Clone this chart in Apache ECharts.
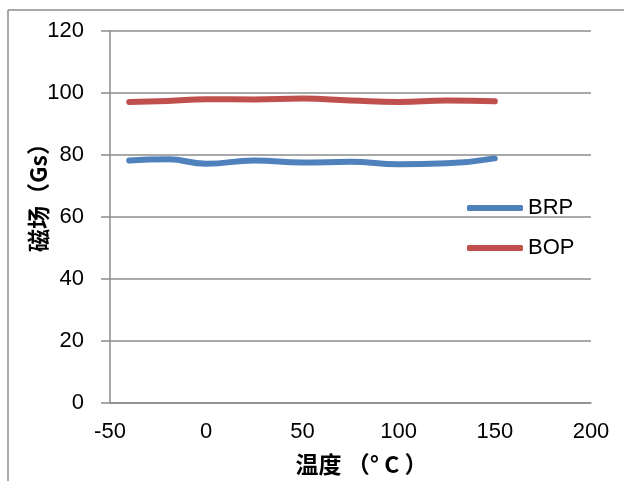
<!DOCTYPE html>
<html>
<head>
<meta charset="utf-8">
<script src="https://cdn.jsdelivr.net/npm/echarts@6/dist/echarts.min.js"></script>
<style>html,body{margin:0;padding:0;background:#fff}#c{width:624px;height:481px}</style>
</head>
<body>
<div id="c"></div>
<script>
var temps = [-40, -20, 0, 25, 50, 75, 100, 125, 150];
var brp = [78.2, 78.6, 77.2, 78.2, 77.6, 77.8, 77.0, 77.3, 78.9];
var bop = [97.1, 97.4, 98.0, 97.9, 98.2, 97.6, 97.1, 97.6, 97.3];
var seriesNames = ['BRP', 'BOP'];
var xName = '温度 （° C ）';
var yName = '磁场（Gs）';

function pairs(xs, ys) { return xs.map(function (x, i) { return [x, ys[i]]; }); }

var font = "'Liberation Sans Narrow','Liberation Sans','DejaVu Sans',sans-serif";
var cjk = "'Noto Sans CJK SC',sans-serif";
var chart = echarts.init(document.getElementById('c'));
chart.setOption({
  animation: false,
  backgroundColor: '#fff',
  grid: { left: 110, right: 33, top: 31, bottom: 77 },
  legend: {
    orient: 'vertical', left: 462, top: 192, itemGap: 18,
    itemWidth: 56, itemHeight: 6,
    icon: 'roundRect',
    textStyle: { fontSize: 22, color: '#000', fontFamily: font },
    data: seriesNames
  },
  xAxis: {
    type: 'value', min: -50, max: 200, interval: 50,
    axisLine: { show: true, onZero: false, lineStyle: { color: '#8c8c8c', width: 1.5 } },
    axisTick: { show: false },
    splitLine: { show: false },
    axisLabel: { fontSize: 22, color: '#000', margin: 18, fontFamily: font },
    name: xName, nameLocation: 'middle', nameGap: 50,
    nameTextStyle: { fontSize: 23, fontWeight: 'bold', color: '#000', fontFamily: cjk, padding: [0, 0, 0, 22] }
  },
  yAxis: {
    type: 'value', min: 0, max: 120, interval: 20,
    axisLine: { show: true, onZero: false, lineStyle: { color: '#8c8c8c', width: 1.5 } },
    axisTick: { show: true, length: 9, lineStyle: { color: '#8c8c8c', width: 1.5 } },
    splitLine: { show: true, lineStyle: { color: '#8c8c8c', width: 1.5 } },
    axisLabel: { fontSize: 22, color: '#000', margin: 26, fontFamily: font },
    name: yName, nameLocation: 'middle', nameGap: 60, nameRotate: 90, nameMoveOverlap: false,
    nameTextStyle: { fontSize: 23, fontWeight: 'bold', color: '#000', fontFamily: cjk, padding: [0, 0, 0, 50] }
  },
  graphic: [
    { type: 'line', shape: { x1: 8, y1: 10, x2: 624, y2: 10 }, style: { stroke: '#8c8c8c', lineWidth: 1.5 } },
    { type: 'line', shape: { x1: 8, y1: 10, x2: 8, y2: 481 }, style: { stroke: '#8c8c8c', lineWidth: 1.5 } }
  ],
  series: [
    { name: seriesNames[0], type: 'line', data: pairs(temps, brp), smooth: true, showSymbol: false,
      color: '#4F81BD', lineStyle: { width: 6, color: '#4F81BD', cap: 'round' } },
    { name: seriesNames[1], type: 'line', data: pairs(temps, bop), smooth: true, showSymbol: false,
      color: '#C0504D', lineStyle: { width: 6, color: '#C0504D', cap: 'round' } }
  ]
});
</script>
</body>
</html>
